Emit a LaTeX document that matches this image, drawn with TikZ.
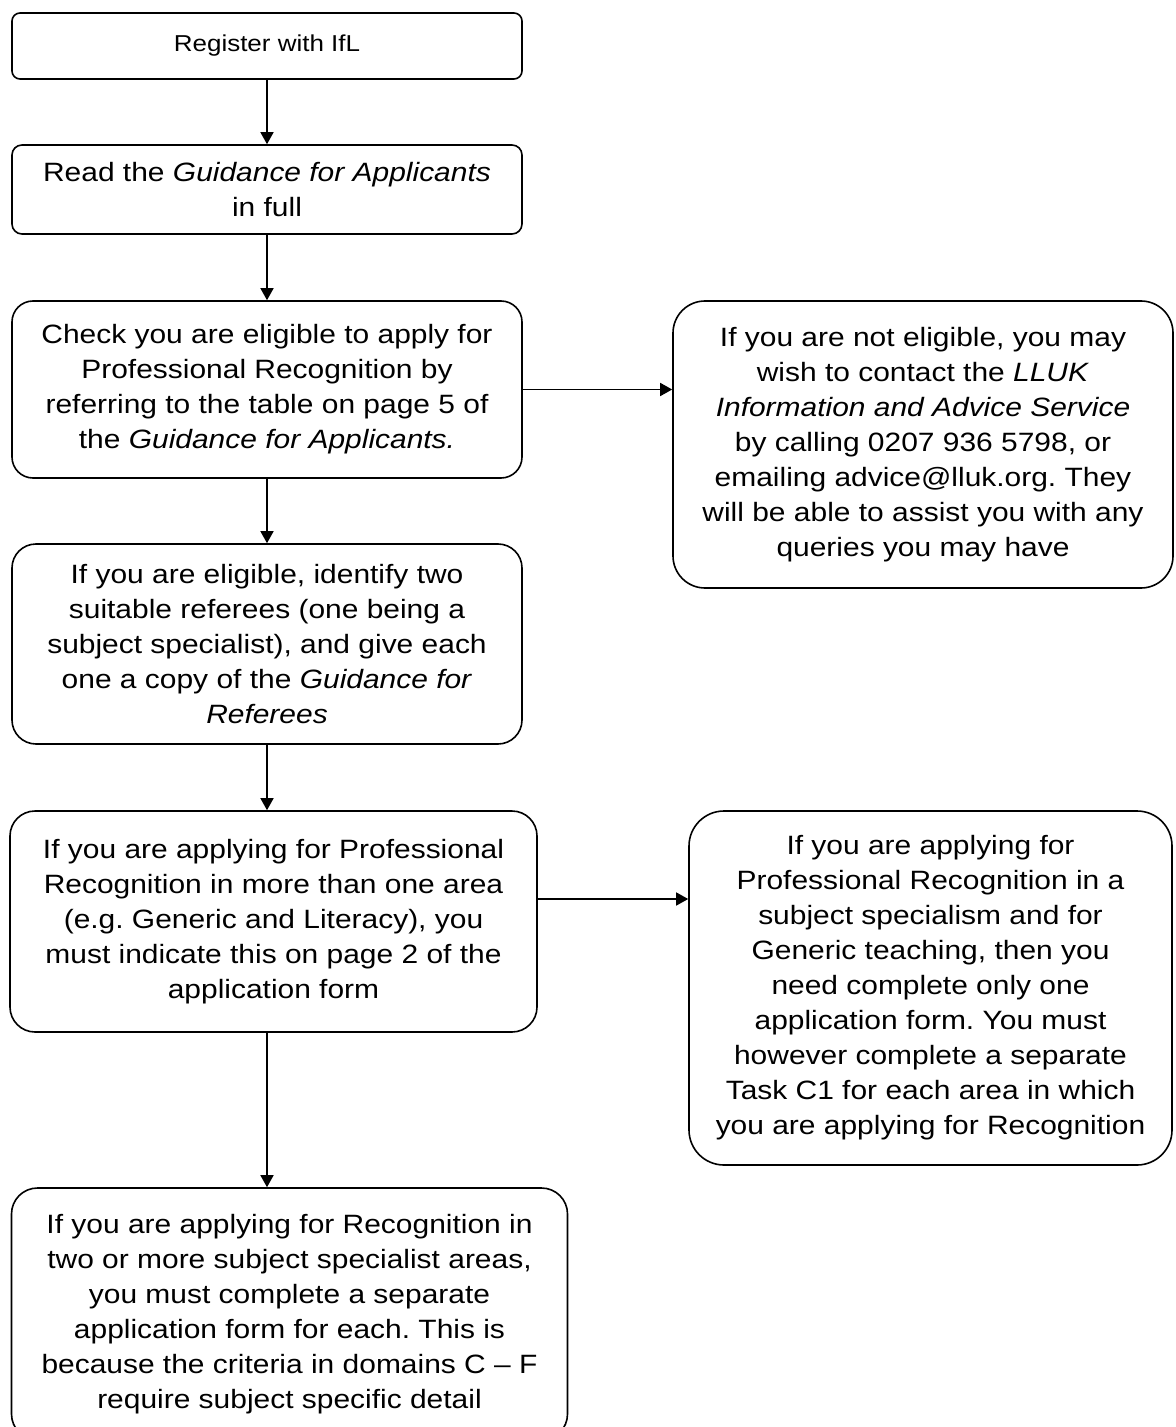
\documentclass[tikz,border=0pt]{standalone}
\usepackage{fontspec}
\setmainfont[FakeStretch=1.13]{Liberation Sans}
\usetikzlibrary{arrows.meta}
\frenchspacing
\begin{document}
\begin{tikzpicture}[x=0.5pt,y=-0.5pt,
  box/.style={draw,line width=0.8pt,align=center,inner sep=2pt,
    font=\fontsize{13.25}{17.5}\selectfont},
  arr/.style={line width=0.75pt,-{Triangle[length=6pt,width=6.5pt]}}]
\useasboundingbox (0,0) rectangle (1175,1427);
\node[box,rounded corners=4pt,minimum width=255pt,minimum height=33pt,
  font=\fontsize{11.5}{14}\selectfont] (reg) at (267,46) {Register with IfL};
\node[box,rounded corners=5pt,minimum width=255pt,minimum height=44.5pt] (read) at (267,189.5)
  {Read the \textit{Guidance for Applicants}\\in full};
\node[box,rounded corners=10.5pt,minimum width=255pt,minimum height=88.5pt] (check) at (267,389.5)
  {Check you are eligible to apply for\\Professional Recognition by\\referring to the table on page 5 of\\the \textit{Guidance for Applicants.}};
\node[box,rounded corners=16pt,minimum width=250pt,minimum height=143.5pt] (noteligible) at (923,444.5)
  {If you are not eligible, you may\\wish to contact the \textit{LLUK}\\\textit{Information and Advice Service}\\by calling 0207 936 5798, or\\emailing advice@lluk.org. They\\will be able to assist you with any\\queries you may have};
\node[box,rounded corners=12pt,minimum width=255pt,minimum height=100pt] (referees) at (267,644)
  {If you are eligible, identify two\\suitable referees (one being a\\subject specialist), and give each\\one a copy of the \textit{Guidance for}\\\textit{Referees}};
\node[box,rounded corners=12.5pt,minimum width=263.5pt,minimum height=110.5pt] (morearea) at (273.5,921.5)
  {If you are applying for Professional\\Recognition in more than one area\\(e.g. Generic and Literacy), you\\must indicate this on page 2 of the\\application form};
\node[box,rounded corners=17.5pt,minimum width=241.5pt,minimum height=177pt] (generic) at (930.5,988)
  {If you are applying for\\Professional Recognition in a\\subject specialism and for\\Generic teaching, then you\\need complete only one\\application form. You must\\however complete a separate\\Task C1 for each area in which\\you are applying for Recognition};
\node[box,rounded corners=13pt,minimum width=278pt,minimum height=126pt] (specialist) at (289.5,1314)
  {If you are applying for Recognition in\\two or more subject specialist areas,\\you must complete a separate\\application form for each. This is\\because the criteria in domains C -- F\\require subject specific detail};
\draw[arr] (reg) -- (read);
\draw[arr] (read) -- (check);
\draw[arr] (check) -- (referees);
\draw[arr] (referees) -- (referees |- morearea.north);
\draw[arr] (morearea.south -| referees.south) -- (specialist.north -| referees.south);
\draw[arr] (check.east) -- (check.east -| noteligible.west);
\draw[arr] ([yshift=11.25pt]morearea.east) -- ([yshift=11.25pt]morearea.east -| generic.west);
\end{tikzpicture}
\end{document}
